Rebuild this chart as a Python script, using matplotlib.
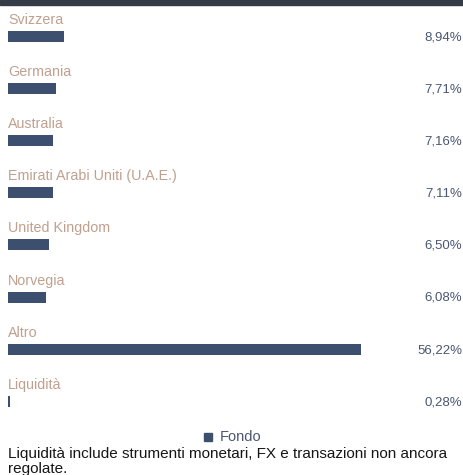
import matplotlib.pyplot as plt
from matplotlib.patches import Rectangle

countries = ["Svizzera", "Germania", "Australia", "Emirati Arabi Uniti (U.A.E.)",
             "United Kingdom", "Norvegia", "Altro", "Liquidità"]
weights = [8.94, 7.71, 7.16, 7.11, 6.50, 6.08, 56.22, 0.28]
labels = ["8,94%", "7,71%", "7,16%", "7,11%", "6,50%", "6,08%", "56,22%", "0,28%"]

bar_color = "#3d4f6e"
label_color = "#c0a08f"
value_color = "#4a5672"

plt.rcParams['font.family'] = ['Liberation Sans', 'DejaVu Sans']

fig = plt.figure(figsize=(4.64, 4.75), dpi=100)
ax = fig.add_axes([0, 0, 1, 1])

# pixel mapping: x=0 at 8px, 6.28 px per percent; rows every 52.1 px starting at 36.5px
px_per_pct = 6.28
row_px = 52.1
ax.set_xlim(-8 / px_per_pct, (464 - 8) / px_per_pct)
ax.set_ylim((475 - 36.5) / row_px, -36.5 / row_px)
ax.axis("off")

rows = list(range(len(countries)))
ax.barh(rows, weights, height=11 / row_px, color=bar_color, left=0)

for i, (name, lab) in enumerate(zip(countries, labels)):
    ax.text(0, i - 16.5 / row_px, name, color=label_color, fontsize=10.3,
            ha="left", va="center")
    ax.text((462 - 8) / px_per_pct, i + 1 / row_px, lab, color=value_color,
            fontsize=9.5, ha="right", va="center")

# top dark band
fig.patches.append(Rectangle((0, 1 - 4.5 / 475), 1, 4.5 / 475, transform=fig.transFigure,
                             color="#353b47", zorder=5))

# legend
fig.patches.append(Rectangle((204 / 464, 1 - 441 / 475), 8 / 464, 8 / 475,
                             transform=fig.transFigure, color=bar_color))
fig.text(220 / 464, 1 - 437 / 475, "Fondo", color=value_color, fontsize=10.5,
         ha="left", va="center")

fig.text(8 / 464, 1 - 454 / 475,
         "Liquidità include strumenti monetari, FX e transazioni non ancora",
         color="#161616", fontsize=11, ha="left", va="center")
fig.text(8 / 464, 1 - 468.5 / 475, "regolate.",
         color="#161616", fontsize=11, ha="left", va="center")

fig.savefig("out.png", dpi=100)
